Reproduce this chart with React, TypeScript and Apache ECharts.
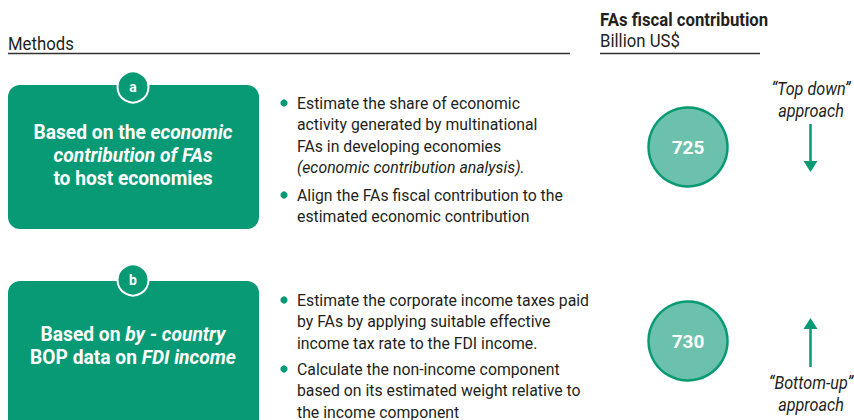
import React, { useEffect, useRef } from "react";
import * as echarts from "echarts";

const methodKeys = ["a", "b"];
const contributionValues = [725, 730];
const approachLabels = ["“Top down”\napproach", "“Bottom-up”\napproach"];
const headerLeft = "Methods";
const headerRight = "FAs fiscal contribution";
const headerRightUnit = "Billion US$";

const GREEN = "#079a74";
const LIGHT = "#6bc1ab";
const INK = "#231f20";
const FONT = "Roboto, 'Liberation Sans', sans-serif";
const SX = 0.93;

export default function App() {
  const ref = useRef<HTMLDivElement>(null);
  useEffect(() => {
    if (!ref.current) return;
    const chart = echarts.init(ref.current, null, { renderer: "svg" });

    const boxText = (x: number, y: number, lines: string) => ({
      type: "text",
      x,
      y,
      scaleX: 0.96,
      style: {
        text: lines,
        align: "center",
        verticalAlign: "middle",
        fill: "#fff",
        font: `bold 20px ${FONT}`,
        rich: {
          b: { fontFamily: FONT, fontSize: 20, fontWeight: "bold", fill: "#fff", lineHeight: 23 },
          i: { fontFamily: FONT, fontSize: 20, fontWeight: "bold", fontStyle: "italic", fill: "#fff", lineHeight: 23 },
        },
      },
    });

    const bullet = (dotY: number, textTop: number, text: string) => [
      { type: "circle", shape: { cx: 284, cy: dotY, r: 3.6 }, style: { fill: GREEN } },
      {
        type: "text",
        x: 297,
        y: textTop,
        scaleX: SX,
        style: {
          text,
          verticalAlign: "top",
          fill: INK,
          font: `17px ${FONT}`,
          rich: {
            n: { fontFamily: FONT, fontSize: 17, fill: INK, lineHeight: 21.5 },
            i: { fontFamily: FONT, fontSize: 17, fontStyle: "italic", fill: INK, lineHeight: 21.5 },
          },
        },
      },
    ];

    const badge = (cx: number, cy: number, label: string) => [
      { type: "circle", shape: { cx, cy, r: 15.5 }, style: { fill: GREEN, stroke: "#fff", lineWidth: 2 } },
      {
        type: "text",
        x: cx,
        y: cy,
        scaleX: SX,
        style: { text: label, align: "center", verticalAlign: "middle", fill: "#fff", font: `bold 15px ${FONT}` },
      },
    ];

    const arrowDown = (x: number, y1: number, y2: number) => [
      { type: "line", shape: { x1: x, y1, x2: x, y2: y2 - 8 }, style: { stroke: GREEN, lineWidth: 2.5 } },
      { type: "polygon", shape: { points: [[x - 7, y2 - 11], [x + 7, y2 - 11], [x, y2]] }, style: { fill: GREEN } },
    ];
    const arrowUp = (x: number, y1: number, y2: number) => [
      { type: "line", shape: { x1: x, y1: y1 + 8, x2: x, y2 }, style: { stroke: GREEN, lineWidth: 2.5 } },
      { type: "polygon", shape: { points: [[x - 7, y1 + 11], [x + 7, y1 + 11], [x, y1]] }, style: { fill: GREEN } },
    ];

    const approachText = (y: number, text: string) => ({
      type: "text",
      x: 811,
      y,
      scaleX: 0.9,
      style: {
        text,
        align: "center",
        verticalAlign: "top",
        fill: INK,
        font: `italic 18px ${FONT}`,
        lineHeight: 21.5,
      },
    });

    const headText = (x: number, y: number, text: string, weight: string) => ({
      type: "text",
      x,
      y,
      scaleX: SX,
      style: { text, verticalAlign: "middle", fill: INK, font: `${weight} 18px ${FONT}` },
    });

    const graphics: any[] = [
      headText(8, 44, headerLeft, "normal"),
      { type: "line", shape: { x1: 8, y1: 53.5, x2: 570, y2: 53.5 }, style: { stroke: "#333", lineWidth: 1.5 } },
      headText(600, 20, headerRight, "bold"),
      headText(600, 41, headerRightUnit, "normal"),
      { type: "line", shape: { x1: 600, y1: 53.5, x2: 760, y2: 53.5 }, style: { stroke: "#333", lineWidth: 1.5 } },
      // box a
      { type: "rect", shape: { x: 8, y: 85, width: 251, height: 144, r: 12 }, style: { fill: GREEN } },
      ...badge(133, 87, methodKeys[0]),
      boxText(133, 155, "{b|Based on the }{i|economic}\n{i|contribution of FAs}\n{b|to host economies}"),
      // box b
      { type: "rect", shape: { x: 8, y: 281, width: 251, height: 170, r: 12 }, style: { fill: GREEN } },
      ...badge(133, 280, methodKeys[1]),
      boxText(133, 346, "{b|Based on }{i|by - country}\n{b|BOP data on }{i|FDI income}"),
      // bullets a
      ...bullet(103, 92.25, "{n|Estimate the share of economic}\n{n|activity generated by multinational}\n{n|FAs in developing economies}\n{i|(economic contribution analysis).}"),
      ...bullet(195, 184.25, "{n|Align the FAs fiscal contribution to the}\n{n|estimated economic contribution}"),
      // bullets b
      ...bullet(300, 289.25, "{n|Estimate the corporate income taxes paid}\n{n|by FAs by applying suitable effective}\n{n|income tax rate to the FDI income.}"),
      ...bullet(369, 358.25, "{n|Calculate the non-income component}\n{n|based on its estimated weight relative to}\n{n|the income component}"),
      // approaches
      approachText(78, approachLabels[0]),
      ...arrowDown(810.5, 124, 172),
      ...arrowUp(810.5, 318, 367),
      approachText(372, approachLabels[1]),
    ];

    chart.setOption({
      animation: false,
      grid: { left: 648, width: 80, top: 147, height: 194 },
      xAxis: { type: "category", data: ["v"], show: false },
      yAxis: { type: "category", data: methodKeys, inverse: true, boundaryGap: false, show: false },
      series: [
        {
          type: "scatter",
          symbol: "circle",
          symbolSize: 79,
          data: contributionValues.map((v, i) => [0, i, v]),
          itemStyle: { color: LIGHT, borderColor: GREEN, borderWidth: 2.5, opacity: 1 },
          label: {
            show: true,
            position: "inside",
            formatter: (p: any) => String(p.value[2]),
            color: "#fff",
            fontFamily: FONT,
            fontWeight: "bold",
            fontSize: 19,
          },
          emphasis: { disabled: true },
        },
      ],
      graphic: graphics,
    });
    return () => chart.dispose();
  }, []);
  return <div ref={ref} style={{ width: 854, height: 420, position: "absolute", left: 0, top: 0 }} />;
}
